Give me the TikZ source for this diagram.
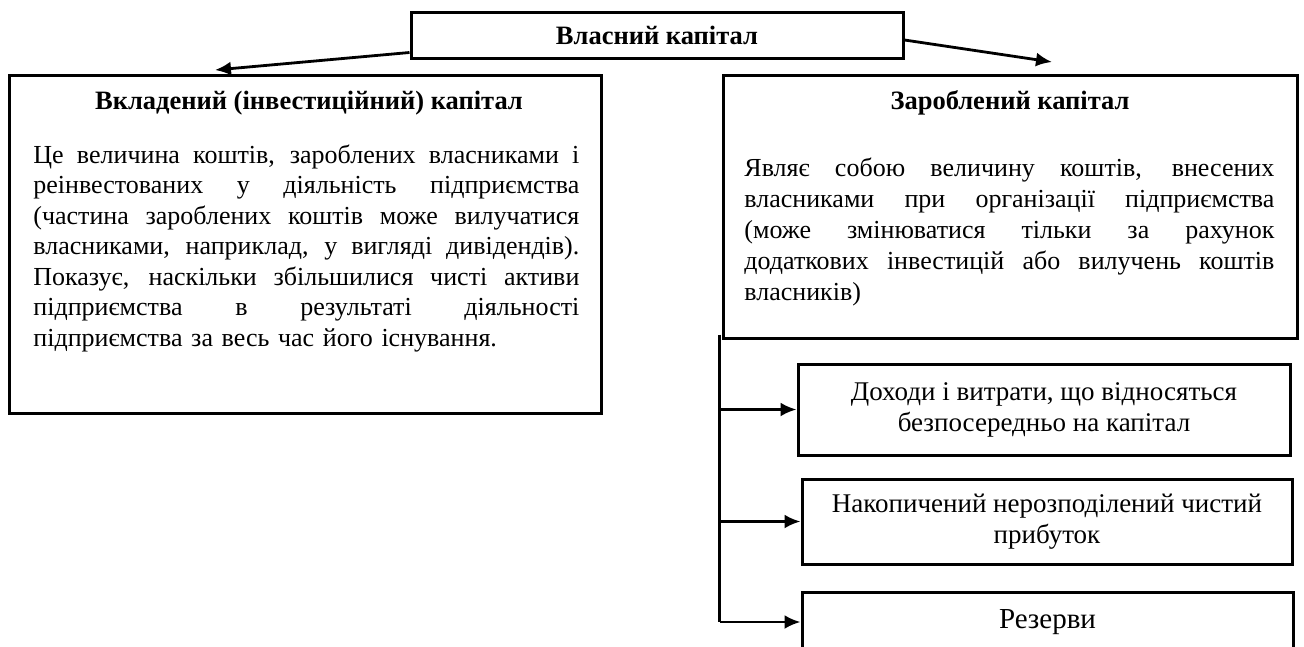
\documentclass[tikz,border=0pt]{standalone}
\usepackage{fontspec}
\setmainfont{Liberation Serif}
\usetikzlibrary{arrows.meta}
\tikzstyle{frame}=[draw,line width=3pt,inner sep=0pt]
\tikzstyle{title}=[inner sep=0pt,font=\fontsize{26.5}{30}\selectfont\bfseries]
\tikzstyle{body}=[inner sep=0pt,font=\fontsize{26}{30.5}\selectfont]
\tikzstyle{item}=[frame,align=center,font=\fontsize{27}{31}\selectfont]
% a justified line of the given width
\newcommand{\fullline}[2][546pt]{\hbox to #1{\spaceskip=0.25em plus 20em\relax #2}}

\begin{document}
\begin{tikzpicture}[x=1pt,y=-1pt,line width=2.8pt,>={Latex[length=16pt,width=14pt]}]
\useasboundingbox (0,0) rectangle (1304,646);
\node[frame,minimum width=492pt,minimum height=46pt,font=\fontsize{26.5}{30}\selectfont\bfseries] (own) at (657,35) {Власний капітал};
% left branch
\node[frame,minimum width=592pt,minimum height=338pt] (inv) at (305,244) {};
\node[title] (invt) at (309,103) {Вкладений (інвестиційний) капітал};
\node[body,text width=546pt,anchor=north west] (invb) at (32,143) {%
\fullline{Це величина коштів, зароблених власниками і}
\fullline{реінвестованих у діяльність підприємства}
\fullline{(частина зароблених коштів може вилучатися}
\fullline{власниками, наприклад, у вигляді дивідендів).}
\fullline{Показує, наскільки збільшилися чисті активи}
\fullline{підприємства в результаті діяльності}
\hbox{підприємства за весь час його існування.}};
% right branch
\node[frame,minimum width=574pt,minimum height=263pt] (earn) at (1010,206.5) {};
\node[title] (earnt) at (1010,103) {Зароблений капітал};
\node[body,text width=530pt,anchor=north west,font=\fontsize{26}{31}\selectfont] (earnb) at (743,156) {%
\fullline[530pt]{Являє собою величину коштів, внесених}
\fullline[530pt]{власниками при організації підприємства}
\fullline[530pt]{(може змінюватися тільки за рахунок}
\fullline[530pt]{додаткових інвестицій або вилучень коштів}
\hbox{власників)}};
\node[item,minimum width=492pt,minimum height=91pt] (inc) at (1044,409.5) {Доходи і витрати, що відносяться\\безпосередньо на капітал};
\node[item,minimum width=490pt,minimum height=85pt] (prof) at (1047,521.5) {Накопичений нерозподілений чистий\\прибуток};
\node[item,minimum width=491pt,minimum height=60pt,font=\fontsize{29}{31}\selectfont] (res) at (1047.5,622) {Резерви};
\coordinate (lt) at (215,70);
\coordinate (rt) at (1052,62);
\coordinate (trunk) at ([xshift=-2pt,yshift=5pt]earn.south west);
\draw[->] ([yshift=7pt]own.south west) -- (lt);
\draw[->] ([yshift=-5pt]own.east) -- (rt);
\draw[line width=2.2pt] (trunk) -- (trunk |- res.west);
\draw[->] (trunk |- inc.west) -- (inc.west);
\draw[->] (trunk |- prof.west) -- (prof.west);
\draw[->] (trunk |- res.west) -- (res.west);
\end{tikzpicture}
\end{document}
